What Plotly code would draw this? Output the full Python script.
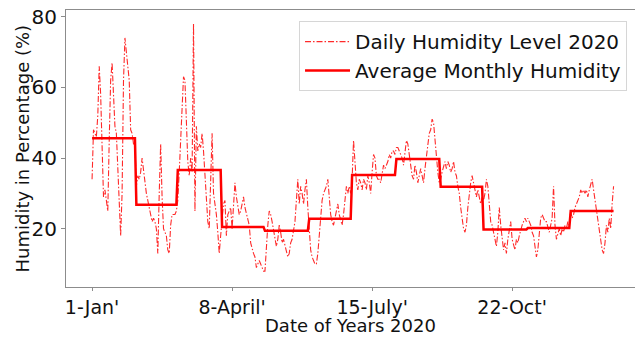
import plotly.graph_objects as go

# Daily humidity (%) for 2020, day index 0..365
daily_humidity = [
    # Jan (0-30)
    34, 48, 47, 46, 52, 66, 58, 40, 29, 31, 28, 25, 45, 62, 67, 57, 49, 47, 38, 25,
    18, 30, 62, 74, 70, 68, 62, 48, 47, 44, 44,
    # Feb (31-59)
    32, 35, 34, 36, 40, 36, 33, 30, 28, 26, 24, 22, 23, 22, 20, 13, 30, 44, 29, 20,
    19, 18, 14, 13, 21, 24, 24, 24, 25,
    # Mar (60-90)
    28, 36, 45, 58, 63, 62, 48, 39, 35, 40, 36, 78, 25, 49, 42, 44, 43, 47, 42, 36,
    28, 22, 20, 35, 47, 30, 27, 24, 19, 13, 18,
    # Apr (91-120)
    24, 27, 28, 18, 24, 25, 26, 20, 27, 33, 29, 26, 24, 25, 27, 29, 26, 24, 22, 21,
    16, 14, 13, 12, 9, 10, 11, 10, 9, 8,
    # May (121-151)
    8, 16, 21, 25, 24, 22, 20, 18, 15, 17, 21, 19, 16, 17, 15, 14, 12, 13, 16, 17,
    19, 22, 28, 34, 27, 32, 30, 27, 31, 34, 26,
    # Jun (152-181)
    20, 14, 12, 11, 10, 10, 13, 18, 24, 28, 30, 31, 32, 34, 29, 24, 22, 21, 23, 25,
    27, 24, 22, 21, 24, 29, 32, 30, 32, 30,
    # Jul (182-212)
    34, 45, 38, 33, 31, 34, 33, 31, 34, 33, 31, 35, 33, 30, 36, 41, 40, 35, 34, 34,
    33, 36, 38, 37, 38, 39, 41, 40, 42, 42, 41,
    # Aug (213-243)
    43, 43, 42, 41, 40, 38, 42, 45, 44, 41, 39, 35, 34, 38, 36, 33, 35, 37, 35, 33,
    37, 41, 45, 47, 48, 51, 50, 45, 41, 36, 33,
    # Sep (244-273)
    34, 36, 38, 39, 37, 39, 38, 36, 37, 39, 36, 35, 32, 30, 26, 23, 20, 19, 21, 26,
    30, 33, 35, 33, 31, 29, 31, 29, 27, 29,
    # Oct (274-304)
    28, 30, 34, 32, 26, 22, 21, 19, 17, 15, 19, 26, 21, 17, 14, 16, 13, 17, 20, 22,
    17, 15, 14, 17, 16, 18, 20, 21, 22, 23, 22,
    # Nov (305-334)
    23, 22, 21, 19, 18, 15, 12, 14, 19, 23, 24, 23, 22, 22, 20, 19, 21, 23, 32, 21,
    17, 19, 20, 18, 20, 19, 21, 20, 22, 21,
    # Dec (335-365)
    25, 23, 24, 26, 27, 28, 29, 31, 30, 31, 30, 31, 29, 31, 33, 34, 31, 28, 25, 23,
    20, 17, 14, 13, 16, 21, 19, 23, 20, 27, 32,
]

month_lengths = [31, 29, 31, 30, 31, 30, 31, 31, 30, 31, 30, 31]
monthly_avg = [45.6, 26.8, 36.6, 20.5, 19.4, 22.8, 35.2, 39.7, 31.9, 19.8, 20.2, 25.0]

tick_days = [0, 98, 196, 294]
tick_labels = ["1-Jan'", "8-April'", "15-July'", "22-Oct'"]

days = list(range(len(daily_humidity)))
monthly_per_day = []
for n, v in zip(month_lengths, monthly_avg):
    monthly_per_day.extend([v] * n)

FONT = "DejaVu Sans"
TXT = "#111"

fig = go.Figure()
fig.add_trace(go.Scatter(
    x=days, y=daily_humidity, mode="lines",
    name="Daily Humidity Level 2020",
    line=dict(color="#ff2a2a", width=1.1, dash="6px,2px,1.5px,2px"),
))
fig.add_trace(go.Scatter(
    x=days, y=monthly_per_day, mode="lines",
    name="Average Monthly Humidity",
    line=dict(color="#ff0000", width=2.5),
))

fig.update_layout(
    width=635, height=337,
    margin=dict(l=66, r=0, t=10, b=50),
    paper_bgcolor="white", plot_bgcolor="white",
    font=dict(family=FONT, size=18, color=TXT),
    showlegend=True,
    legend=dict(
        x=0.986, y=0.96, xanchor="right", yanchor="top",
        bgcolor="rgba(255,255,255,0.9)", bordercolor="#d6d6d6", borderwidth=1,
        font=dict(family=FONT, size=20, color=TXT),
        itemwidth=45, tracegroupgap=0,
    ),
    xaxis=dict(
        range=[-18.25, 380.0],
        tickmode="array", tickvals=tick_days, ticktext=tick_labels,
        showgrid=False, zeroline=False,
        showline=True, linecolor="#8c8c8c", linewidth=1, mirror=True,
        ticks="outside", ticklen=3, tickcolor="#8c8c8c",
        tickfont=dict(family=FONT, size=19, color=TXT),
        automargin=False,
    ),
    yaxis=dict(
        range=[3.5, 81.9],
        tickmode="array", tickvals=[20, 40, 60, 80],
        showgrid=False, zeroline=False,
        showline=True, linecolor="#8c8c8c", linewidth=1,
        ticks="outside", ticklen=4, tickcolor="#8c8c8c",
        tickfont=dict(family=FONT, size=20, color=TXT),
        automargin=False,
    ),
    annotations=[
        dict(text="Date of Years 2020", xref="paper", yref="paper",
             x=0.5, y=-0.182, xanchor="center", yanchor="bottom", borderpad=0,
             showarrow=False, font=dict(family=FONT, size=18, color=TXT)),
        dict(text="Humidity in Percentage (%)", xref="paper", yref="paper",
             x=-0.0773, y=0.5, xanchor="center", yanchor="middle", textangle=-90,
             showarrow=False, font=dict(family=FONT, size=18, color=TXT)),
    ],
)

fig.write_html("out.html")
